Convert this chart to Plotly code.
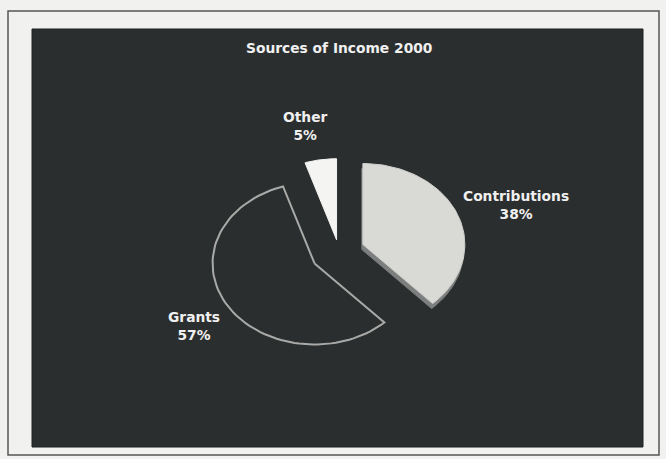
import numpy as np
import plotly.graph_objects as go

# ---- data ----
title_text = "Sources of Income 2000"
labels = ["Contributions", "Grants", "Other"]
values = [38, 57, 5]

# ---- styling / geometry (pixel space) ----
W, H = 666, 459
cx, cy = 339, 252          # pie centre
rx, ry = 102, 81           # elliptical (tilted) radii
pulls = [25, 27, 12.5]     # explode distance per slice (ellipse-scaled direction)
label_dist = [1.8, 1.62, 1.6]
label_xshift = [6, -3, -8]
label_yshift = [-7, -7, -2]
fills = ["#d9d9d6", "#2b2e2e", "#f4f4f2"]
lines = ["#cfcfcc", "#a9aaa8", "#f4f4f2"]
line_w = [1, 2, 1]
panel_bg = "#2b2e2e"
page_bg = "#f1f1ef"
txt = "#f0f0f0"
fsize = 13.8

fig = go.Figure()

total = sum(values)
start = 0.0
geo = []
for lab, v, p in zip(labels, values, pulls):
    span = 360.0 * v / total
    a0, a1 = start, start + span
    mid = np.radians((a0 + a1) / 2)
    dx, dy = rx * np.sin(mid), -ry * np.cos(mid)
    n = np.hypot(dx, dy)
    ox = cx + p * dx / n
    oy = cy + p * dy / n
    th = np.radians(np.linspace(a0, a1, 80))
    xs = np.concatenate([[ox], ox + rx * np.sin(th), [ox]])
    ys = np.concatenate([[oy], oy - ry * np.cos(th), [oy]])
    geo.append((xs, ys, mid))
    start = a1

# thickness edge under Contributions (3-D look)
xs, ys, _ = geo[0]
fig.add_trace(go.Scatter(x=xs - 1, y=ys + 5, mode="lines", fill="toself",
                         fillcolor="#7d7f7e", line=dict(color="#7d7f7e", width=1),
                         hoverinfo="skip", showlegend=False))

for i, (xs, ys, mid) in enumerate(geo):
    fig.add_trace(go.Scatter(x=xs, y=ys, mode="lines", fill="toself",
                             fillcolor=fills[i],
                             line=dict(color=lines[i], width=line_w[i]),
                             name=labels[i], hoverinfo="name", showlegend=False))
    lx = cx + label_dist[i] * rx * np.sin(mid)
    ly = cy - label_dist[i] * ry * np.cos(mid)
    fig.add_annotation(x=lx, y=ly, xref="x", yref="y",
                       xshift=label_xshift[i], yshift=label_yshift[i],
                       text=f"<b>{labels[i]}<br>{values[i]}%</b>",
                       showarrow=False, align="center",
                       font=dict(family="DejaVu Sans", size=fsize, color=txt))

fig.add_annotation(x=339, y=48, xref="x", yref="y",
                   text=f"<b>{title_text}</b>", showarrow=False,
                   font=dict(family="DejaVu Sans", size=fsize, color=txt))

fig.update_layout(
    width=W, height=H,
    margin=dict(l=0, r=0, t=0, b=0),
    paper_bgcolor=page_bg, plot_bgcolor=page_bg,
    xaxis=dict(range=[0, W], visible=False, fixedrange=True),
    yaxis=dict(range=[H, 0], visible=False, fixedrange=True),
    shapes=[
        dict(type="rect", xref="x", yref="y", x0=8, y0=11, x1=659, y1=455,
             line=dict(color="#555755", width=1.5), fillcolor=page_bg, layer="below"),
        dict(type="rect", xref="x", yref="y", x0=32, y0=29, x1=643, y1=447,
             line=dict(color="#1e2020", width=1), fillcolor=panel_bg, layer="below"),
    ],
)

fig.write_html("out.html")
